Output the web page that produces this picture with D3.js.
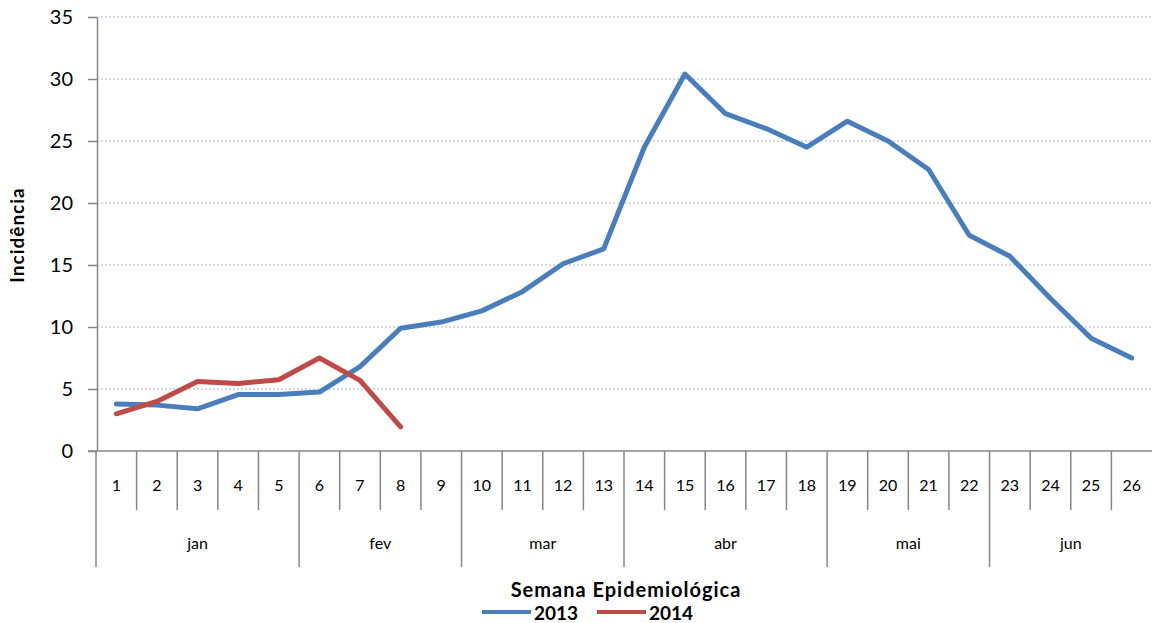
<!DOCTYPE html>
<html>
<head>
<meta charset="utf-8">
<script src="https://cdn.jsdelivr.net/npm/d3@7"></script>
<style>
  body { margin: 0; background: #fff; }
  text { font-family: Lato, "Open Sans", sans-serif; fill: #000; }
</style>
</head>
<body>
<div id="chart"></div>
<script>
// data
var weeks = d3.range(1, 27);
var months = ["jan", "fev", "mar", "abr", "mai", "jun"];
var monthWeeks = [[1, 5], [6, 9], [10, 13], [14, 18], [19, 22], [23, 26]];
var inc2013 = [3.8, 3.7, 3.4, 4.55, 4.55, 4.75, 6.8, 9.9, 10.4, 11.3, 12.85, 15.1, 16.3,
               24.5, 30.4, 27.2, 26.0, 24.5, 26.6, 25.0, 22.7, 17.4, 15.7, 12.3, 9.1, 7.5];
var inc2014 = [3.0, 4.0, 5.6, 5.45, 5.75, 7.5, 5.7, 1.95];
var yTicks = [0, 5, 10, 15, 20, 25, 30, 35];

var width = 1152, height = 623;
var plot = {left: 96, right: 1152, top: 17, bottom: 451};

var svg = d3.select("#chart")
  .append("svg")
    .attr("width", width)
    .attr("height", height);

var x = d3.scaleBand()
  .domain(weeks)
  .range([plot.left, plot.right])
  .padding(0);

var y = d3.scaleLinear()
  .domain([0, 35])
  .range([plot.bottom, plot.top]);

// gridlines
svg.append("g")
  .selectAll("line")
  .data(yTicks.filter(d => d > 0))
  .enter()
  .append("line")
    .attr("x1", plot.left + 1)
    .attr("x2", plot.right)
    .attr("y1", d => y(d))
    .attr("y2", d => y(d))
    .attr("stroke", "#9db5e0")
    .attr("stroke-width", 1)
    .attr("stroke-dasharray", "2,2");

// Y axis
var yAxis = svg.append("g")
  .attr("transform", "translate(" + (plot.left + 1) + ",0)")
  .call(d3.axisLeft(y).tickValues(yTicks).tickSize(9).tickSizeOuter(0).tickPadding(15));
yAxis.select(".domain").attr("stroke", "#868686").attr("stroke-width", 1.5);
yAxis.selectAll(".tick line").attr("stroke", "#868686").attr("stroke-width", 1.5);
yAxis.selectAll(".tick text")
  .style("font-size", "20px")
  .style("font-family", "Lato, 'Open Sans', sans-serif")
  .attr("fill", "#000");

// Y axis label
svg.append("text")
  .attr("transform", "translate(24," + 235 + ") rotate(-90)")
  .style("text-anchor", "middle")
  .style("font-size", "19px")
  .style("letter-spacing", "1px")
  .style("font-weight", "bold")
  .text("Incidência");

// X axis: baseline, week and month separators
var xg = svg.append("g").attr("stroke", "#868686").attr("stroke-width", 1.5);
xg.append("line")
  .attr("x1", plot.left - 8).attr("x2", plot.right)
  .attr("y1", plot.bottom).attr("y2", plot.bottom);

var monthStarts = monthWeeks.map(m => m[0]);
xg.selectAll(".wsep")
  .data(weeks.filter(w => monthStarts.indexOf(w) < 0))
  .enter()
  .append("line")
    .attr("x1", d => x(d)).attr("x2", d => x(d))
    .attr("y1", plot.bottom).attr("y2", 510);

xg.selectAll(".msep")
  .data(monthStarts)
  .enter()
  .append("line")
    .attr("x1", d => x(d)).attr("x2", d => x(d))
    .attr("y1", plot.bottom).attr("y2", 567);

svg.append("g")
  .selectAll("text")
  .data(weeks)
  .enter()
  .append("text")
    .attr("x", d => x(d) + x.bandwidth() / 2)
    .attr("y", 491)
    .style("text-anchor", "middle")
    .style("font-size", "16px")
    .text(d => d);

svg.append("g")
  .selectAll("text")
  .data(months)
  .enter()
  .append("text")
    .attr("x", (d, i) => (x(monthWeeks[i][0]) + x(monthWeeks[i][1]) + x.bandwidth()) / 2)
    .attr("y", 549)
    .style("text-anchor", "middle")
    .style("font-size", "16px")
    .text(d => d);

// X axis label
svg.append("text")
  .attr("x", 626)
  .attr("y", 597)
  .style("text-anchor", "middle")
  .style("font-size", "20px")
  .style("letter-spacing", "1px")
  .style("font-weight", "bold")
  .text("Semana Epidemiológica");

// lines
var line = d3.line()
  .x((d, i) => x(weeks[i]) + x.bandwidth() / 2)
  .y(d => y(d));

svg.append("path")
  .datum(inc2013)
  .attr("fill", "none")
  .attr("stroke", "#4a7ebb")
  .attr("stroke-width", 5)
  .attr("stroke-linejoin", "round")
  .attr("stroke-linecap", "round")
  .attr("d", line);

svg.append("path")
  .datum(inc2014)
  .attr("fill", "none")
  .attr("stroke", "#be4b48")
  .attr("stroke-width", 5)
  .attr("stroke-linejoin", "round")
  .attr("stroke-linecap", "round")
  .attr("d", line);

// legend
var legend = [
  {name: "2013", color: "#4a7ebb", x: 482},
  {name: "2014", color: "#be4b48", x: 597}
];
var lg = svg.append("g").selectAll("g").data(legend).enter().append("g");
lg.append("line")
  .attr("x1", d => d.x).attr("x2", d => d.x + 49)
  .attr("y1", 612).attr("y2", 612)
  .attr("stroke", d => d.color)
  .attr("stroke-width", 4);
lg.append("text")
  .attr("x", d => d.x + 52)
  .attr("y", 620)
  .style("font-size", "19px")
  .style("font-weight", "bold")
  .text(d => d.name);
</script>
</body>
</html>
